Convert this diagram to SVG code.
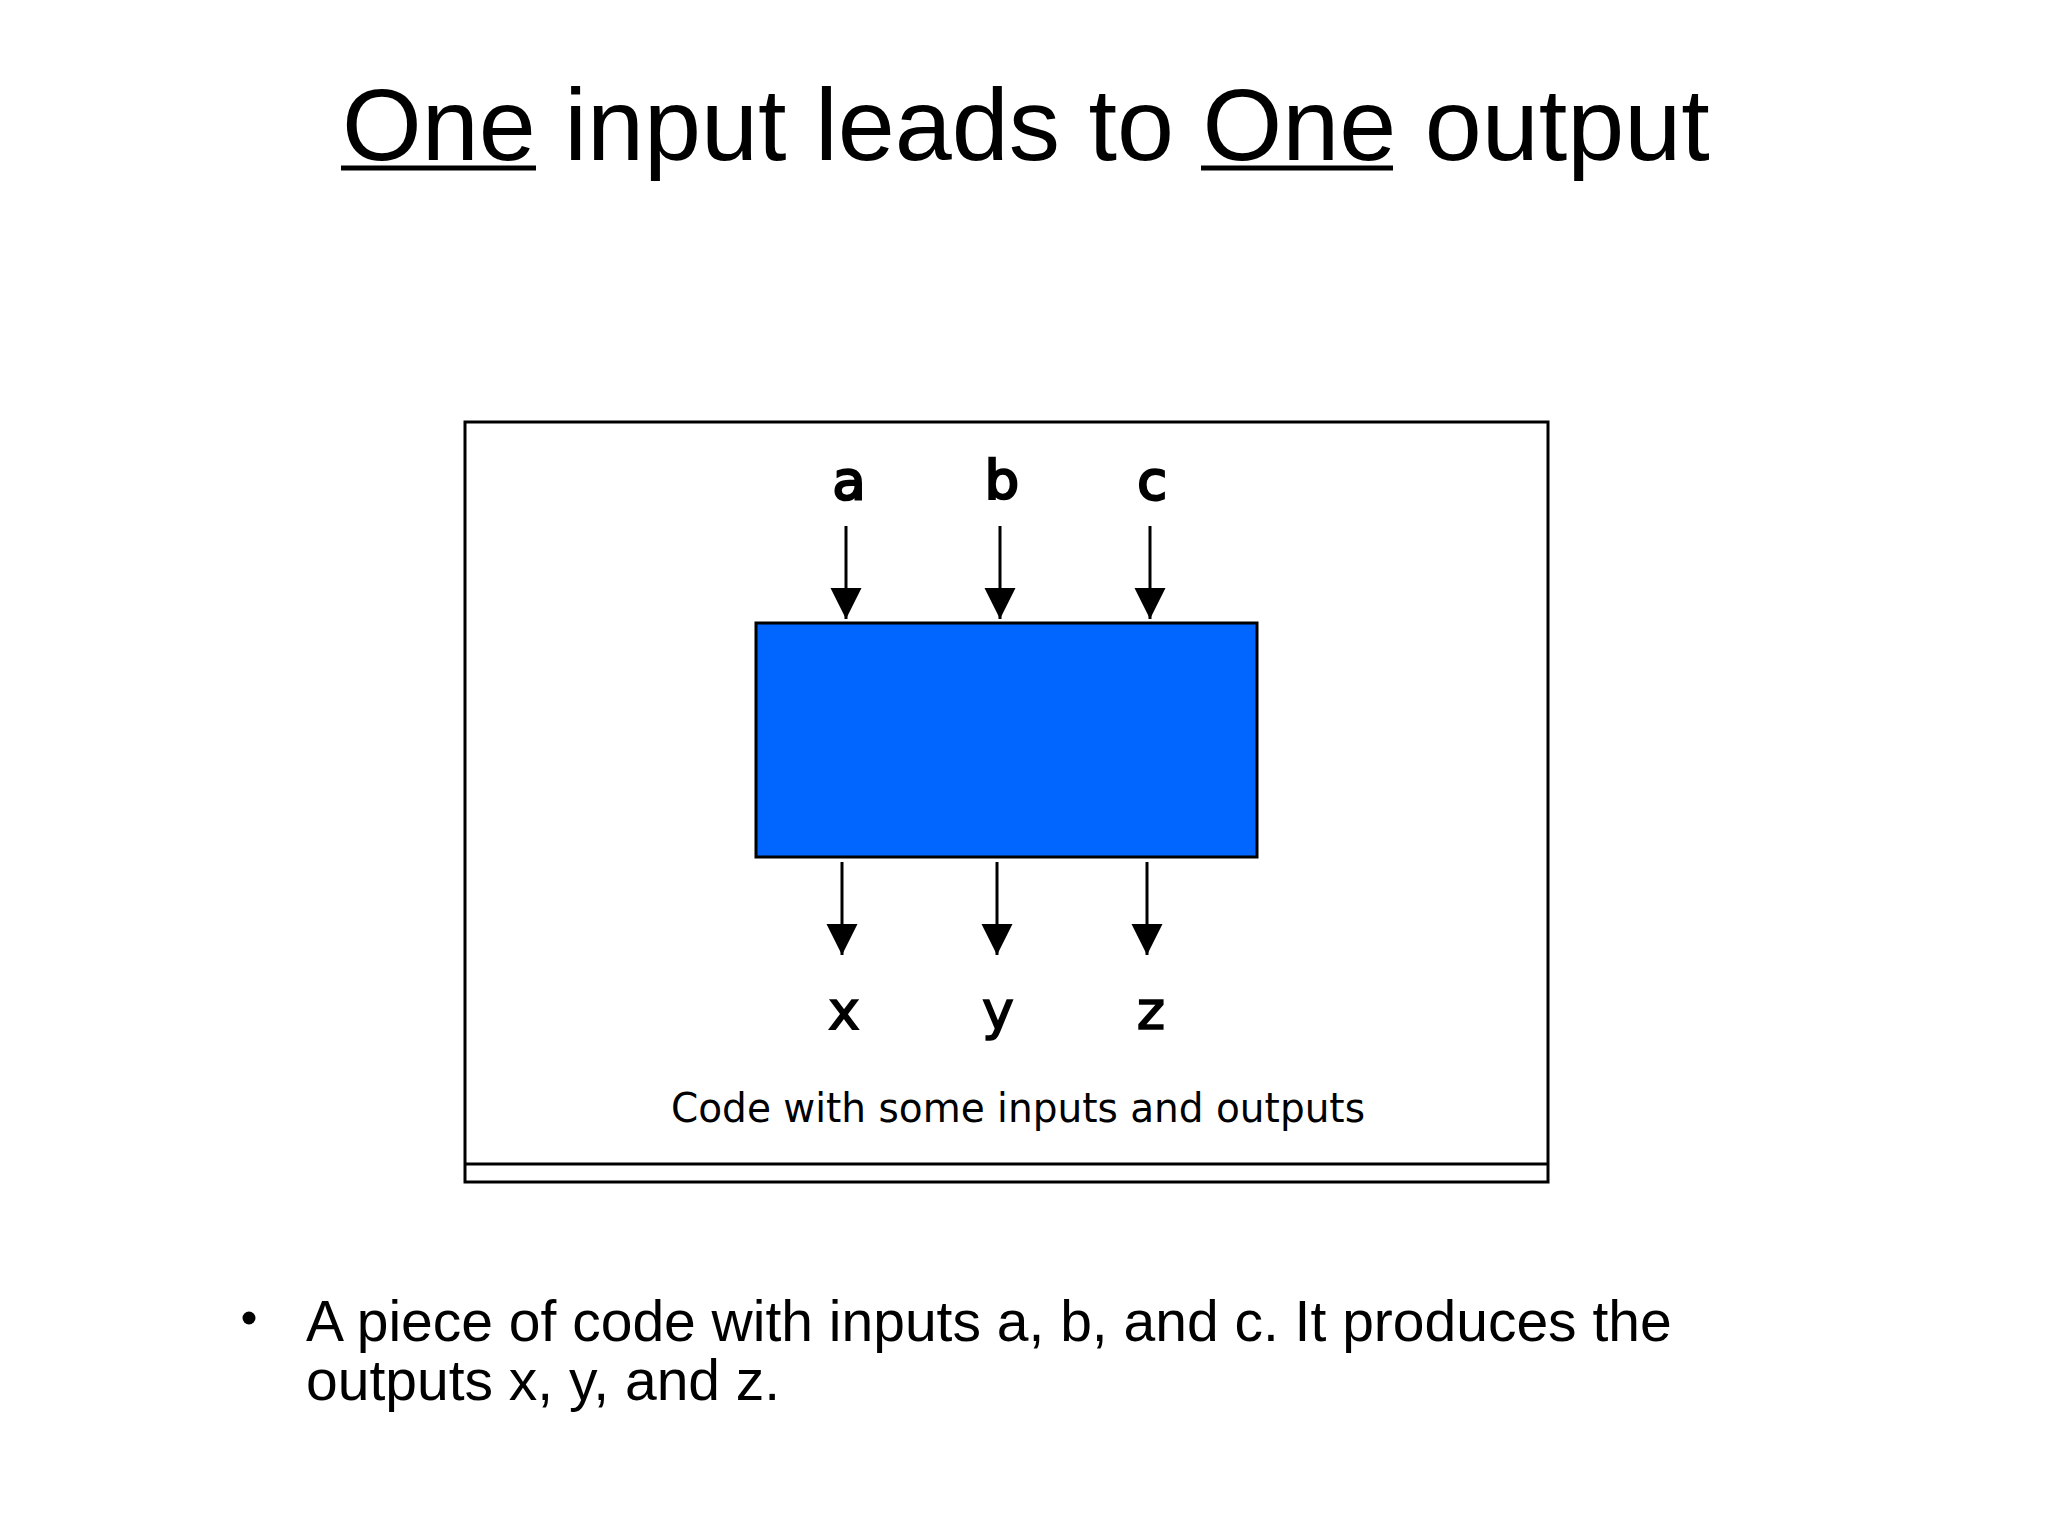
<svg xmlns="http://www.w3.org/2000/svg" width="2048" height="1536" viewBox="0 0 2048 1536">
  <style>
    .title { font-family: "Liberation Sans", Arial, sans-serif; font-size: 102.5px; fill: #000; }
    .body { font-family: "Liberation Sans", Arial, sans-serif; font-size: 57px; fill: #000; }
    .lbl { font-family: "DejaVu Sans", sans-serif; font-size: 54px; fill: #000; text-anchor: middle; stroke: #000; stroke-width: 1.6; }
    .lblb { stroke-width: 2.6; }
    .cap { font-family: "DejaVu Sans", sans-serif; font-size: 40px; fill: #000; }
    .conn { stroke: #000; stroke-width: 3; fill: none; }
    .frame { fill: #fff; stroke: #000; stroke-width: 3; }
  </style>
  <defs>
    <marker id="arrow" markerUnits="userSpaceOnUse" viewBox="0 -16 31 32" refX="31" refY="0" markerWidth="31" markerHeight="32" orient="auto">
      <path d="M0,-15.5 L31,0 L0,15.5 Z" fill="#000"/>
    </marker>
  </defs>
  <rect width="2048" height="1536" fill="#fff"/>

  <g id="title">
    <text class="title" x="342" y="160">One input leads to One output</text>
    <line x1="341" y1="168" x2="536" y2="168" stroke="#000" stroke-width="5"/>
    <line x1="1201" y1="168" x2="1393" y2="168" stroke="#000" stroke-width="5"/>
  </g>

  <g id="frame">
    <rect class="frame" x="465" y="422" width="1083" height="760"/>
    <line x1="465" y1="1164" x2="1548" y2="1164" stroke="#000" stroke-width="3"/>
  </g>

  <g id="code-block">
    <rect x="756" y="623" width="501" height="234" fill="#0066FF" stroke="#000" stroke-width="3"/>
  </g>

  <g id="inputs">
    <text class="lbl lblb" x="849" y="499">a</text>
    <text class="lbl lblb" x="1002" y="499">b</text>
    <text class="lbl lblb" x="1152" y="499">c</text>
  </g>

  <g id="outputs">
    <text class="lbl" x="844" y="1029">x</text>
    <text class="lbl" x="998" y="1029">y</text>
    <text class="lbl" x="1151" y="1029">z</text>
  </g>

  <g id="connectors">
    <line class="conn" x1="846" y1="526" x2="846" y2="619" marker-end="url(#arrow)"/>
    <line class="conn" x1="1000" y1="526" x2="1000" y2="619" marker-end="url(#arrow)"/>
    <line class="conn" x1="1150" y1="526" x2="1150" y2="619" marker-end="url(#arrow)"/>
    <line class="conn" x1="842" y1="862" x2="842" y2="955" marker-end="url(#arrow)"/>
    <line class="conn" x1="997" y1="862" x2="997" y2="955" marker-end="url(#arrow)"/>
    <line class="conn" x1="1147" y1="862" x2="1147" y2="955" marker-end="url(#arrow)"/>
  </g>

  <g id="caption">
    <text class="cap" x="671" y="1122" textLength="694" lengthAdjust="spacingAndGlyphs">Code with some inputs and outputs</text>
  </g>

  <g id="bullet">
    <circle cx="249" cy="1318" r="6.5" fill="#000"/>
    <text class="body" x="306" y="1341">A piece of code with inputs a, b, and c. It produces the</text>
    <text class="body" x="306" y="1400">outputs x, y, and z.</text>
  </g>
</svg>
